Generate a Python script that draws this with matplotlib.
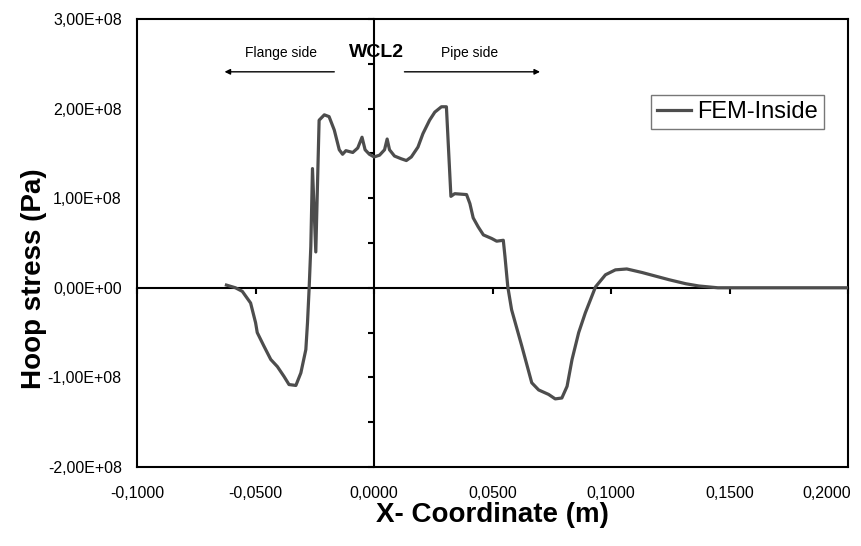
import matplotlib
matplotlib.use("Agg")
import matplotlib.pyplot as plt
import numpy as np
from matplotlib.ticker import FuncFormatter, MultipleLocator

plt.rcParams['font.family'] = ['Liberation Sans', 'DejaVu Sans']

# FEM-Inside hoop stress along the x coordinate
x_m = [-0.0623, -0.0585, -0.0556, -0.0521, -0.0500, -0.0493, -0.0465, -0.0436,
       -0.0408, -0.0380, -0.0359, -0.0330, -0.0309, -0.0288, -0.0281, -0.0274,
       -0.0267, -0.0260, -0.0246, -0.0232, -0.0210, -0.0190, -0.0168, -0.0147,
       -0.0133, -0.0119, -0.0090, -0.0069, -0.0051, -0.0038, -0.0020, 0.0000,
       0.0023, 0.0044, 0.0055, 0.0065, 0.0086, 0.0114, 0.0136, 0.0157,
       0.0185, 0.0206, 0.0234, 0.0256, 0.0284, 0.0305, 0.0312, 0.0324,
       0.0340, 0.0390, 0.0404, 0.0418, 0.0439, 0.0461, 0.0496, 0.0517,
       0.0545, 0.0552, 0.0564, 0.0580, 0.0623, 0.0665, 0.0694, 0.0736,
       0.0764, 0.0792, 0.0814, 0.0835, 0.0863, 0.0891, 0.0934, 0.0976,
       0.1018, 0.1066, 0.1131, 0.1145, 0.1244, 0.1315, 0.1370, 0.1450,
       0.1600, 0.2000]
stress_pa = [0.03e8, 0.00e8, -0.04e8, -0.17e8, -0.39e8, -0.50e8, -0.65e8, -0.80e8,
             -0.88e8, -0.99e8, -1.08e8, -1.09e8, -0.95e8, -0.69e8, -0.39e8, 0.00e8,
             0.46e8, 1.33e8, 0.40e8, 1.87e8, 1.93e8, 1.91e8, 1.76e8, 1.54e8,
             1.49e8, 1.53e8, 1.51e8, 1.56e8, 1.68e8, 1.54e8, 1.49e8, 1.46e8,
             1.48e8, 1.54e8, 1.66e8, 1.54e8, 1.47e8, 1.44e8, 1.42e8, 1.46e8,
             1.57e8, 1.72e8, 1.87e8, 1.96e8, 2.02e8, 2.02e8, 1.65e8, 1.02e8,
             1.05e8, 1.04e8, 0.94e8, 0.78e8, 0.68e8, 0.59e8, 0.55e8, 0.52e8,
             0.53e8, 0.35e8, 0.01e8, -0.245e8, -0.65e8, -1.06e8, -1.14e8, -1.19e8,
             -1.24e8, -1.23e8, -1.10e8, -0.80e8, -0.50e8, -0.28e8, 0.01e8, 0.145e8,
             0.20e8, 0.21e8, 0.17e8, 0.16e8, 0.09e8, 0.045e8, 0.02e8, 0.0,
             0.0, 0.0]

x_limits = [-0.1, 0.2]
y_limits = [-2e8, 3e8]

fig = plt.figure(figsize=(8.62, 5.46), dpi=100, facecolor='white')
pos = [0.159, 0.1447, 0.825, 0.8206]

# axes crossing at zero, with their tick marks (drawn underneath)
ax2 = fig.add_axes(pos)
ax2.set_xlim(x_limits)
ax2.set_ylim(y_limits)
ax2.patch.set_visible(False)
ax2.spines['left'].set_position(('data', 0))
ax2.spines['bottom'].set_position(('data', 0))
ax2.spines['top'].set_visible(False)
ax2.spines['right'].set_visible(False)
ax2.spines['left'].set_linewidth(1.5)
ax2.spines['bottom'].set_linewidth(1.5)
ax2.xaxis.set_major_locator(MultipleLocator(0.05))
ax2.yaxis.set_major_locator(MultipleLocator(0.5e8))
ax2.tick_params(direction='out', length=4, width=1.5, labelleft=False,
                labelbottom=False)

ax = fig.add_axes(pos)
ax.patch.set_visible(False)
ax.plot(x_m, stress_pa, color='#4d4d4d', linewidth=2.3, label='FEM-Inside',
        solid_joinstyle='round', zorder=3)

ax.set_xlim(x_limits)
ax.set_ylim(y_limits)
ax.xaxis.set_major_locator(MultipleLocator(0.05))
ax.yaxis.set_major_locator(MultipleLocator(1e8))


def fmt_y(v, pos):
    return f"{v:.2E}".replace('.', ',')


def fmt_x(v, pos):
    if abs(v) < 1e-12:
        v = 0.0
    if v > x_limits[1] - 1e-9:
        return ''  # drawn separately so it stays inside the figure
    return f"{v:.4f}".replace('.', ',')


ax.yaxis.set_major_formatter(FuncFormatter(fmt_y))
ax.xaxis.set_major_formatter(FuncFormatter(fmt_x))
ax.tick_params(axis='y', length=0, pad=11, labelsize=11.5)
ax.tick_params(axis='x', length=0, pad=14, labelsize=11.5)
for s in ax.spines.values():
    s.set_linewidth(1.5)
    s.set_color('black')

ax.text(1.004, -0.0595, f"{x_limits[1]:.4f}".replace('.', ','),
        transform=ax.transAxes, ha='right', va='center', fontsize=11.5)

ax.set_xlabel('X- Coordinate (m)', fontsize=20, fontweight='bold')
ax.set_ylabel('Hoop stress (Pa)', fontsize=20, fontweight='bold')
ax.xaxis.set_label_coords(0.5, -0.079)
ax.yaxis.set_label_coords(-0.127, 0.42)

# annotations
ax.annotate('', xy=(-0.0631, 2.41e8), xytext=(-0.0168, 2.41e8),
            arrowprops=dict(arrowstyle='-|>', color='black', lw=1.0,
                            mutation_scale=8, shrinkA=0, shrinkB=0))
ax.annotate('', xy=(0.0700, 2.41e8), xytext=(0.0128, 2.41e8),
            arrowprops=dict(arrowstyle='-|>', color='black', lw=1.0,
                            mutation_scale=8, shrinkA=0, shrinkB=0))
ax.text(-0.0394, 2.62e8, 'Flange side', ha='center', va='center', fontsize=10)
ax.text(0.0403, 2.62e8, 'Pipe side', ha='center', va='center', fontsize=10)
ax.text(0.001, 2.63e8, 'WCL2', ha='center', va='center', fontsize=14,
        fontweight='bold')

leg = ax.legend(loc='upper right', bbox_to_anchor=(0.966, 0.830),
                borderaxespad=0, fontsize=17, frameon=True, fancybox=False,
                handlelength=1.45, handletextpad=0.25, borderpad=0.25)
leg.get_frame().set_edgecolor('#555555')
leg.get_frame().set_linewidth(1.0)

fig.savefig('out.png', dpi=100)
